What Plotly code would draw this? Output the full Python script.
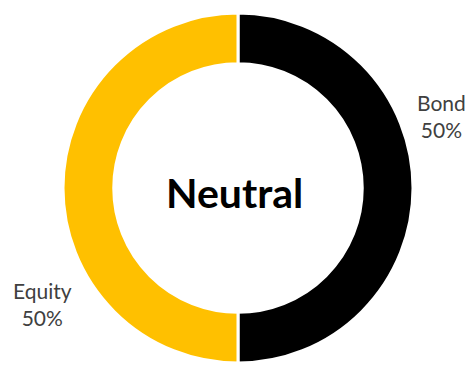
import plotly.graph_objects as go

labels = ["Bond", "Equity"]
values = [50, 50]
colors = ["#000000", "#FFC000"]
center_text = "Neutral"

W, H = 469, 365
cx, cy, r = 238, 188, 175  # pixel center from top, radius

total = sum(values)
pct = [f"{l}<br>{v / total * 100:.0f}%" for l, v in zip(labels, values)]

fig = go.Figure(go.Pie(
    labels=labels, values=values, sort=False, direction="clockwise", rotation=0,
    hole=0.71, textinfo="none", hoverinfo="label+percent",
    marker=dict(colors=colors, line=dict(color="white", width=3)),
    domain=dict(x=[(cx - r) / W, (cx + r) / W], y=[(H - cy - r) / H, (H - cy + r) / H]),
    showlegend=False,
))

font_lbl = dict(family="Lato", size=21, color="#404040")
label_pos = [(441, 116), (42, 304)]
for t, (x, y) in zip(pct, label_pos):
    fig.add_annotation(x=x / W, y=(H - y) / H, xref="paper", yref="paper", text=t,
                       showarrow=False, xanchor="center", yanchor="middle", font=font_lbl)

fig.add_annotation(x=234.5 / W, y=(H - 193) / H, xref="paper", yref="paper",
                   text=f"<b>{center_text}</b>", showarrow=False, xanchor="center",
                   yanchor="middle", font=dict(family="Lato", size=41, color="#000000"))

fig.update_layout(width=W, height=H, margin=dict(l=0, r=0, t=0, b=0),
                  paper_bgcolor="white", plot_bgcolor="white")
fig.write_html("out.html", config={"displayModeBar": False},
               post_script="document.body.style.margin='0';document.body.style.overflow='hidden';")
